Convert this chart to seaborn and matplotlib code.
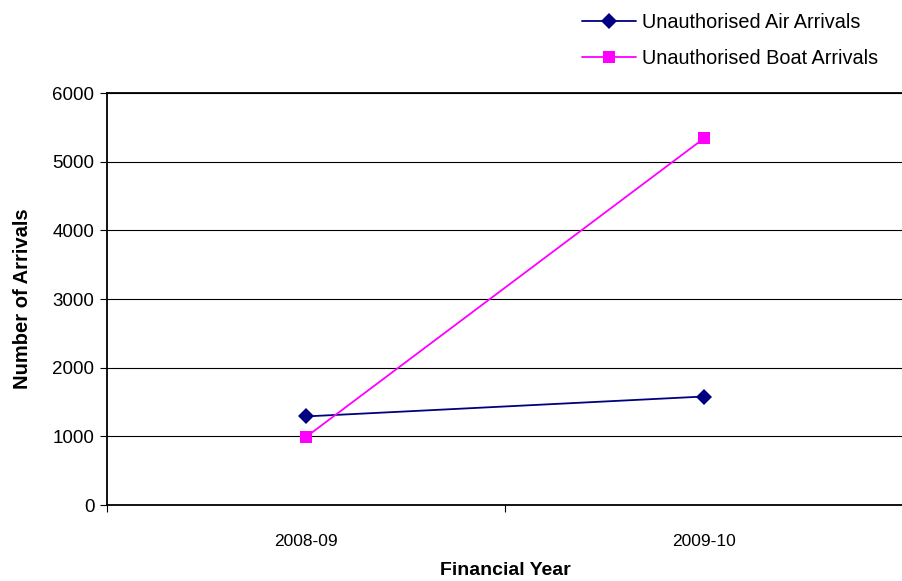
import matplotlib
matplotlib.use("Agg")
import matplotlib.pyplot as plt
import seaborn as sns
import pandas as pd

years = ["2008-09", "2009-10"]
air_arrivals = [1290, 1580]
boat_arrivals = [990, 5340]
series_names = ["Unauthorised Air Arrivals", "Unauthorised Boat Arrivals"]

df = pd.DataFrame({
    "year": years * 2,
    "arrivals": air_arrivals + boat_arrivals,
    "series": [series_names[0]] * len(years) + [series_names[1]] * len(years),
})

sns.set_style("white")
plt.rcParams['font.family'] = ['Liberation Sans', 'DejaVu Sans']
plt.rcParams['text.color'] = 'black'
plt.rcParams['xtick.color'] = 'black'
plt.rcParams['ytick.color'] = 'black'
plt.rcParams['axes.labelcolor'] = 'black'

fig = plt.figure(figsize=(9.03, 5.81), dpi=100)
ax = fig.add_axes([107 / 903, 1 - 505 / 581, 1 - 107 / 903, (505 - 93) / 581])

palette = {series_names[0]: "#000080", series_names[1]: "#FF00FF"}
markers = {series_names[0]: "D", series_names[1]: "s"}
sns.lineplot(data=df, x="year", y="arrivals", hue="series", style="series",
             palette=palette, markers=markers, dashes=False, markersize=8,
             linewidth=1.3, markeredgewidth=0, ax=ax)

ax.set_ylim(0, 6000)
ax.set_yticks(range(0, 6001, 1000))
ax.set_xlim(-0.5, 1.49)
ax.set_xticks([0, 1])
ax.set_xticks([-0.5, 0.5, 1.5], minor=True)
ax.tick_params(axis="x", which="major", bottom=False, length=0, pad=21, labelsize=12.5)
ax.tick_params(axis="x", which="minor", bottom=True, length=5, width=0.8, color="black", direction="out")
ax.tick_params(axis="y", left=True, length=5, width=0.8, color="black", direction="out", labelsize=13.5, pad=4)
ax.yaxis.grid(True, color="black", linewidth=0.8)
ax.set_axisbelow(True)

for side in ["left", "bottom", "top"]:
    ax.spines[side].set_visible(True)
    ax.spines[side].set_color("black")
    ax.spines[side].set_linewidth(1.3)
ax.spines["right"].set_visible(False)

ax.set_xlabel("Financial Year", fontsize=14, fontweight="bold")
ax.xaxis.set_label_coords(0.5, -0.138)
ax.set_ylabel("Number of Arrivals", fontsize=14.5, fontweight="bold", labelpad=15)

leg = ax.legend(loc="upper left", bbox_to_anchor=(569 / 903, 1.0), bbox_transform=fig.transFigure,
                frameon=False, fontsize=14.3, handlelength=2.7, handletextpad=0.35,
                labelspacing=0.85, borderaxespad=0.25)

fig.savefig("out.png", dpi=100)
